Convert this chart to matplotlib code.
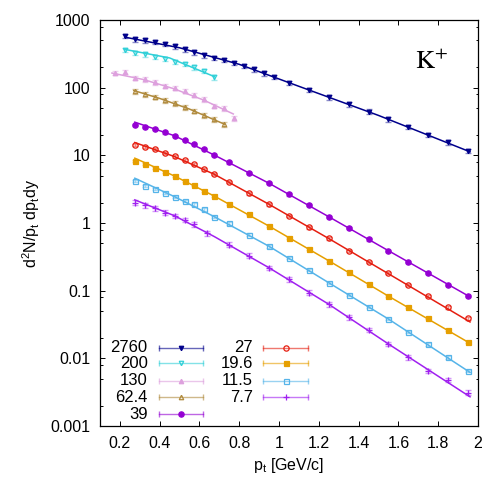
import matplotlib
matplotlib.use("Agg")
import matplotlib.pyplot as plt
from matplotlib.ticker import FixedLocator, LogLocator, NullFormatter
import numpy as np

plt.rcParams['font.family'] = ['Liberation Sans', 'DejaVu Sans']
plt.rcParams['mathtext.fontset'] = 'custom'
plt.rcParams['mathtext.rm'] = 'Liberation Sans'
plt.rcParams['mathtext.it'] = 'Liberation Sans:italic'

# ---- data ----
pt_2760 = [0.225, 0.275, 0.325, 0.375, 0.425, 0.475, 0.525, 0.575, 0.625, 0.675, 0.725, 0.775, 0.825,
           0.875, 0.925, 0.975, 1.05, 1.15, 1.25, 1.35, 1.45, 1.55, 1.65, 1.75, 1.85, 1.95]
y_2760 = [586, 524, 506, 477, 446, 413, 369, 333, 304, 277, 257, 234, 210,
          187, 163, 145, 118, 93, 72, 57.4, 44.2, 34.4, 26.5, 20.0, 15.6, 11.6]

pt_200 = [0.225, 0.275, 0.325, 0.375, 0.425, 0.475, 0.525, 0.575, 0.625, 0.675]
y_200 = [361, 325, 311, 287, 265, 242, 222, 200, 176, 142]

pt_130 = [0.175, 0.225, 0.275, 0.325, 0.375, 0.425, 0.475, 0.525, 0.575, 0.625, 0.675, 0.725, 0.775]
y_130 = [166, 169, 140, 133, 120, 108, 98, 89, 78, 67.3, 53.6, 49.5, 35.2]

pt_624 = [0.275, 0.325, 0.375, 0.425, 0.475, 0.525, 0.575, 0.625, 0.675, 0.725]
y_624 = [89.3, 80.6, 73.6, 65.8, 58.8, 51.3, 45.7, 39.4, 34.4, 29.0]

pt_bes = [0.275, 0.325, 0.375, 0.425, 0.475, 0.525, 0.575, 0.625, 0.675, 0.75, 0.85,
          0.95, 1.05, 1.15, 1.25, 1.35, 1.45, 1.55, 1.65, 1.75, 1.85, 1.95]
y_39 = [28.1, 26.5, 24.5, 21.9, 19.3, 17.0, 14.7, 12.4, 10.1, 7.89, 5.54,
        3.87, 2.66, 1.85, 1.24, 0.853, 0.574, 0.39, 0.268, 0.184, 0.121, 0.083]
y_27 = [14.2, 13.2, 12.4, 10.9, 9.68, 8.54, 7.45, 6.22, 5.30, 4.07, 2.75,
        1.89, 1.27, 0.865, 0.594, 0.39, 0.268, 0.181, 0.121, 0.083, 0.0568, 0.039]
y_196 = [8.34, 7.38, 6.44, 5.62, 4.95, 4.22, 3.65, 3.0, 2.51, 1.91, 1.34,
         0.904, 0.607, 0.413, 0.277, 0.187, 0.126, 0.0834, 0.0568, 0.039, 0.0262, 0.0176]
y_115 = [4.18, 3.56, 3.18, 2.80, 2.45, 2.14, 1.89, 1.59, 1.24, 0.99, 0.676,
         0.453, 0.307, 0.202, 0.131, 0.0863, 0.058, 0.0381, 0.0247, 0.0161, 0.01035, 0.00656]

pt_77 = [0.275, 0.325, 0.375, 0.425, 0.475, 0.525, 0.575, 0.64, 0.75, 0.85, 0.95,
         1.05, 1.15, 1.25, 1.35, 1.45, 1.55, 1.65, 1.75, 1.85, 1.95]
y_77 = [2.0, 1.82, 1.65, 1.42, 1.27, 1.11, 0.966, 0.711, 0.481, 0.331, 0.218,
        0.147, 0.0933, 0.0628, 0.0404, 0.0262, 0.0163, 0.01035, 0.0065, 0.00479, 0.0031]

# relative errors (roughly, from the bar lengths)
err_2760 = 0.08
err_200 = 0.07
err_130 = 0.07
err_624 = 0.08
err_39 = 0.04
err_27 = 0.04
err_196 = 0.03
err_115 = 0.04
err_77 = 0.08

# fit curves (knots)
fx_2760 = [0.225, 0.5, 0.8, 1.1, 1.5, 1.96]
fy_2760 = [560, 390, 222, 105, 39, 11.3]
fx_200 = [0.225, 0.45, 0.675]
fy_200 = [369, 276, 146]
fx_130 = [0.16, 0.32, 0.47, 0.62, 0.77]
fy_130 = [165, 132, 97, 66, 41]
fx_624 = [0.27, 0.4, 0.55, 0.725]
fy_624 = [91, 69.6, 48.4, 29]
fx_bes = [0.275, 0.475, 0.675, 0.95, 1.25, 1.55, 1.96]
fy_39 = [31, 19.5, 10.1, 3.87, 1.24, 0.39, 0.081]
fy_27 = [15.5, 9.6, 5.25, 1.89, 0.59, 0.178, 0.0345]
fy_196 = [9.1, 4.95, 2.5, 0.9, 0.277, 0.083, 0.0167]
fy_115 = [4.6, 2.45, 1.24, 0.453, 0.131, 0.0381, 0.0062]
fy_77 = [2.2, 1.28, 0.63, 0.218, 0.063, 0.0163, 0.0027]

series = [
    # label, x, y, err, fit x, fit y, color, marker, filled
    ("2760", pt_2760, y_2760, err_2760, fx_2760, fy_2760, "#00008b", "v", True),
    ("200", pt_200, y_200, err_200, fx_200, fy_200, "#30d0d8", "v", False),
    ("130", pt_130, y_130, err_130, fx_130, fy_130, "#dda0dd", "^", True),
    ("62.4", pt_624, y_624, err_624, fx_624, fy_624, "#b08a3c", "^", False),
    ("39", pt_bes, y_39, err_39, fx_bes, fy_39, "#9400d3", "o", True),
    ("27", pt_bes, y_27, err_27, fx_bes, fy_27, "#e51e10", "o", False),
    ("19.6", pt_bes, y_196, err_196, fx_bes, fy_196, "#e69f00", "s", True),
    ("11.5", pt_bes, y_115, err_115, fx_bes, fy_115, "#56b4e9", "s", False),
    ("7.7", pt_77, y_77, err_77, fx_bes, fy_77, "#a020f0", "+", True),
]
msize = {"v": 3.2, "^": 3.2, "o": 3.8, "s": 3.6, "+": 5}

fig = plt.figure(figsize=(4.98, 4.98), dpi=100)
ax = fig.add_axes([0.2008, 0.1446, 0.759, 0.815])

for lab, x, y, er, fx, fy, col, mk, filled in series:
    x = np.array(x)
    y = np.array(y)
    ax.plot(fx, fy, color=col, lw=1.1, zorder=2)
    ax.errorbar(x, y, yerr=y * er, fmt="none", ecolor=col, alpha=0.45,
                elinewidth=1.0, capsize=2.2, capthick=1.0, zorder=3)
    ax.plot(x, y, ls="none", marker=mk, ms=msize[mk], color=col,
            mfc=col if filled else "none", mew=0.9, zorder=4)

ax.set_yscale("log")
ax.set_xlim(0.1, 2.0)
ax.set_ylim(1e-3, 1e3)

ax.xaxis.set_major_locator(FixedLocator([0.2, 0.4, 0.6, 0.8, 1.0, 1.2, 1.4, 1.6, 1.8, 2.0]))
ax.set_xticklabels(["0.2", "0.4", "0.6", "0.8", "1", "1.2", "1.4", "1.6", "1.8", "2"])
ax.yaxis.set_major_locator(FixedLocator([1e-3, 1e-2, 1e-1, 1, 10, 100, 1000]))
ax.set_yticklabels(["0.001", "0.01", "0.1", "1", "10", "100", "1000"])
ax.yaxis.set_minor_locator(LogLocator(base=10, subs=[2, 5, 8]))
ax.yaxis.set_minor_formatter(NullFormatter())

ax.tick_params(which="both", direction="in", top=True, right=True, labelsize=11.5, width=0.7)
ax.tick_params(which="major", length=3.6, pad=7)
ax.tick_params(which="minor", length=1.8)
for s in ax.spines.values():
    s.set_linewidth(0.9)

ax.set_xlabel(r"p$_\mathrm{t}$ [GeV/c]", fontsize=11.5, labelpad=4)
ax.set_ylabel(r"d$^2$N/p$_\mathrm{t}$ dp$_\mathrm{t}$dy", fontsize=11.5, labelpad=6)

ax.text(0.876, 0.897, r"$\mathrm{K}^{+}$", transform=ax.transAxes, fontsize=19,
        math_fontfamily="stix", ha="center", va="center")

# gnuplot-style key: label, then a horizontal error-bar sample with the marker
rows = [0.193, 0.154, 0.111, 0.0705, 0.0295]
cols = [(0.126, 0.155, 0.272), (0.405, 0.432, 0.55)]
for i, (lab, x, y, er, fx, fy, col, mk, filled) in enumerate(series):
    c = 0 if i < 5 else 1
    r = rows[i] if i < 5 else rows[i - 5]
    tx, x0, x1 = cols[c]
    ax.text(tx, r, lab, transform=ax.transAxes, ha="right", va="center", fontsize=12)
    ax.plot([x0, x1], [r, r], transform=ax.transAxes, color=col, lw=1.0, alpha=0.6)
    ax.plot([x0], [r], transform=ax.transAxes, ls="none", marker="|", ms=5, color=col, alpha=0.6)
    ax.plot([x1], [r], transform=ax.transAxes, ls="none", marker="|", ms=5, color=col, alpha=0.6)
    ax.plot([(x0 + x1) / 2], [r], transform=ax.transAxes, ls="none", marker=mk, ms=msize[mk],
            color=col, mfc=col if filled else "none", mew=0.9)

fig.savefig("out.png", dpi=100)
